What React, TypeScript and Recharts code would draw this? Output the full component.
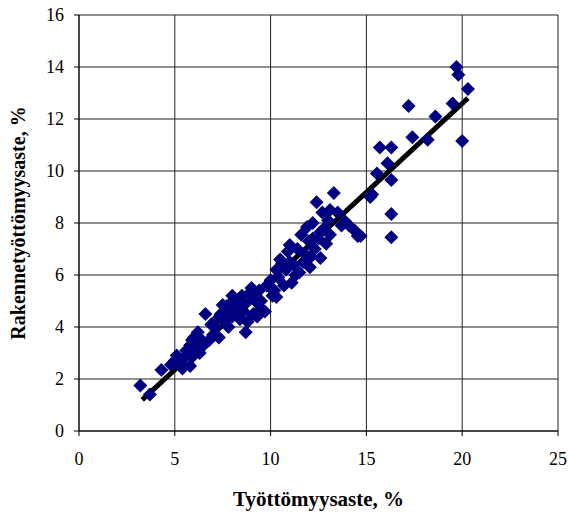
import { ScatterChart, Scatter, XAxis, YAxis, CartesianGrid, ReferenceLine } from 'recharts';

// unemployment rate (x) vs structural unemployment rate (y), %
const xs = [
  3.2, 3.7, 4.3, 4.8, 5.0, 5.3, 5.4, 5.6, 5.8, 5.9, 5.6, 5.8, 5.9, 6.0, 6.1, 6.2, 6.3, 6.4, 6.2, 6.5,
  6.6, 6.8, 7.0, 7.1, 7.3, 7.2, 7.4, 7.5, 7.6, 7.7, 7.8, 7.9, 8.0, 8.0, 8.2, 8.3, 8.4, 8.5, 8.6, 8.7,
  8.7, 8.8, 8.9, 9.0, 9.1, 9.2, 9.3, 9.5, 9.4, 9.7, 9.8, 10.0, 10.1, 10.2, 10.3, 10.3, 10.4, 10.5, 10.6, 10.7,
  10.8, 10.9, 11.0, 11.1, 11.2, 11.3, 11.4, 11.5, 11.6, 11.7, 11.8, 11.9, 12.0, 12.05, 12.1, 12.2, 12.3, 12.4, 12.5, 12.6,
  12.6, 12.7, 12.8, 12.9, 13.0, 13.1, 13.1, 13.3, 13.5, 13.7, 13.9, 14.1, 14.4, 14.55, 14.7, 15.2, 15.3, 15.55, 15.7, 16.1,
  16.3, 16.3, 16.3, 16.3, 17.2, 17.4, 18.2, 18.6, 19.5, 19.7, 19.8, 20.3, 20.0, 5.1, 9.5, 10.0, 6.9, 7.7, 11.0, 12.2,
];
const ys = [
  1.75, 1.4, 2.35, 2.55, 2.7, 2.6, 2.4, 2.9, 2.5, 2.85, 3.1, 3.3, 3.5, 3.6, 3.4, 3.2, 3.0, 3.5, 3.8, 3.3,
  4.5, 3.5, 3.7, 4.0, 3.6, 4.3, 4.5, 4.85, 4.2, 4.6, 4.0, 4.9, 5.2, 4.4, 4.7, 5.0, 4.3, 5.2, 4.6, 3.8,
  4.9, 4.2, 5.3, 5.5, 4.5, 5.0, 4.4, 4.7, 5.4, 4.6, 5.6, 5.8, 5.2, 5.4, 5.15, 6.2, 5.9, 6.6, 6.45, 5.6,
  6.2, 6.9, 7.15, 5.7, 6.4, 6.0, 7.0, 6.1, 7.55, 6.5, 6.8, 7.85, 7.3, 6.3, 6.7, 8.0, 7.0, 8.8, 7.4, 6.65,
  7.65, 8.4, 7.8, 7.2, 8.1, 8.5, 7.55, 9.15, 8.4, 7.9, 8.05, 7.9, 7.7, 7.5, 7.5, 9.0, 9.1, 9.9, 10.9, 10.3,
  10.9, 9.65, 8.35, 7.45, 12.5, 11.3, 11.2, 12.1, 12.6, 14.0, 13.7, 13.15, 11.15, 2.9, 5.0, 5.5, 4.1, 4.8, 6.5, 7.4,
];
const points = xs.map((x, i) => ({ x, y: ys[i] }));

// trend line end points
const trendStart = { x: 3.3, y: 1.2 };
const trendEnd = { x: 20.3, y: 12.8 };

const xTicks = [0, 5, 10, 15, 20, 25];
const yTicks = [0, 2, 4, 6, 8, 10, 12, 14, 16];

const font = '"Liberation Serif", "Times New Roman", serif';

function Diamond(props: any) {
  const { cx, cy } = props;
  const r = 7;
  return (
    <polygon
      points={`${cx},${cy - r} ${cx + r},${cy} ${cx},${cy + r} ${cx - r},${cy}`}
      fill="#000080"
    />
  );
}

export default function App() {
  return (
    <div style={{ position: 'absolute', left: 0, top: 0, background: '#fff' }}>
      <ScatterChart width={568} height={516} margin={{ top: 15, right: 10, bottom: 0, left: 0 }}>
        <CartesianGrid stroke="#222" strokeWidth={1} />
        <XAxis
          type="number"
          dataKey="x"
          domain={[0, 25]}
          ticks={xTicks}
          height={85}
          stroke="#000"
          tickSize={5}
          tickMargin={16}
          tick={{ fontSize: 18, fill: '#000', fontFamily: font }}
          label={{
            value: 'Työttömyysaste, %',
            position: 'insideBottom',
            offset: 10,
            style: { fontSize: 21, fontWeight: 'bold', fill: '#000', fontFamily: font },
          }}
        />
        <YAxis
          type="number"
          dataKey="y"
          domain={[0, 16]}
          ticks={yTicks}
          width={79}
          stroke="#000"
          tickSize={5}
          tickMargin={10}
          tick={{ fontSize: 18, fill: '#000', fontFamily: font }}
          label={{
            value: 'Rakennetyöttömyysaste, %',
            angle: -90,
            position: 'insideLeft',
            offset: 18,
            style: { textAnchor: 'middle', fontSize: 20, fontWeight: 'bold', fill: '#000', fontFamily: font },
          }}
        />
        <Scatter data={points} shape={<Diamond />} isAnimationActive={false} />
        <ReferenceLine segment={[trendStart, trendEnd]} stroke="#000" strokeWidth={5} />
      </ScatterChart>
    </div>
  );
}
